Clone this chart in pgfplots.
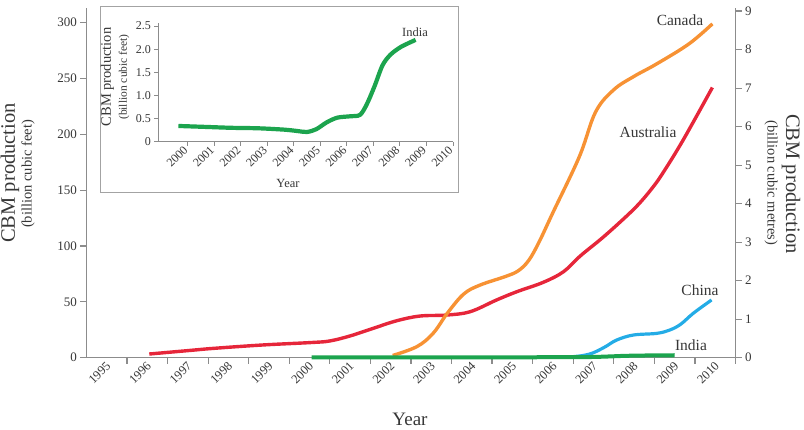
\documentclass[border=0pt]{standalone}
\usepackage{pgfplots}
\usepackage{pgfplotstable}
\pgfplotsset{compat=1.18}
\usepackage{fontspec}
\setmainfont{Liberation Serif}

\definecolor{cbmOrange}{RGB}{247,146,52}
\definecolor{cbmRed}{RGB}{230,38,58}
\definecolor{cbmBlue}{RGB}{36,172,230}
\definecolor{cbmGreen}{RGB}{28,164,78}
\definecolor{axisgray}{RGB}{140,140,140}
\definecolor{txt}{RGB}{55,55,55}

% India CBM production, billion cubic feet
\pgfplotstableread{
year bcf
2000.0 0.34
2001.0 0.32
2002.0 0.30
2003.0 0.29
2004.0 0.26
2004.5 0.23
2004.85 0.21
2005.2 0.27
2005.6 0.42
2006.0 0.52
2006.5 0.55
2006.85 0.58
2007.1 0.80
2007.4 1.20
2007.7 1.65
2008.0 1.88
2008.4 2.05
2008.95 2.20
}\indiatab

\pgfplotsset{
  cbm/.style={
    scale only axis, anchor=south west,
    axis line style={axisgray, line width=1.5pt},
    tick style={axisgray, line width=1.2pt},
    tick align=outside, major tick length=6pt, minor tick length=6pt,
    /pgf/number format/assume math mode=true,
    /pgf/number format/set thousands separator={},
    tick label style={text=txt},
    clip=false,
  },
}

\begin{document}
\begin{tikzpicture}
\useasboundingbox (0pt,0pt) rectangle (804pt,429pt);

% ---------------- main axis (billion cubic feet) ----------------
% year labels sit on the (invisible) major ticks, the tick marks are minor ticks
\begin{axis}[cbm,
  at={(86.4pt,71.3pt)}, width=649.1pt, height=349.7pt,
  xmin=1994.45, xmax=2010.45, ymin=0, ymax=313.2,
  axis x line*=bottom, axis y line*=left,
  xtick={1995,1996,1997,1998,1999,2000,2001,2002,2003,2004,2005,2006,2007,2008,2009,2010},
  major x tick style={draw=none},
  minor xtick={1995.45,1996.45,1997.45,1998.45,1999.45,2000.45,2001.45,2002.45,2003.45,2004.45,2005.45,2006.45,2007.45,2008.45,2009.45,2010.45},
  minor x tick style={axisgray, line width=1.2pt},
  xticklabel style={rotate=45, anchor=east, font=\fontsize{12.5}{12.5}\selectfont, xshift=3pt, yshift=0pt},
  ytick={0,50,100,150,200,250,300},
  yticklabel style={font=\fontsize{13}{13}\selectfont},
]
% Australia
\addplot[cbmRed, line width=3.4pt, smooth, tension=0.6] coordinates {
(1996.0,3.3) (1997.0,6.5) (1997.6,8.4) (1998.8,11.4) (2000.0,13.6) (2000.45,15)
(2000.95,19.5) (2001.52,26.3) (2002.1,33.1) (2002.67,37.3) (2003.33,38.2)
(2003.91,41.2) (2004.56,51.7) (2005.06,59.1) (2005.71,67.5) (2006.21,77)
(2006.62,91) (2007.19,108) (2007.77,127) (2008.1,139) (2008.42,153)
(2008.67,166) (2009.16,195) (2009.88,242)
};
% Canada
\addplot[cbmOrange, line width=3.4pt, smooth, tension=0.6] coordinates {
(2002.0,2) (2002.6,10) (2003.0,22) (2003.35,40) (2003.75,57) (2004.15,65)
(2004.8,73) (2005.1,78) (2005.35,87) (2005.6,103) (2005.95,130) (2006.6,180)
(2007.0,220) (2007.45,240) (2007.95,252) (2008.5,263) (2009.3,281) (2009.88,299)
};
% China
\addplot[cbmBlue, line width=3.2pt, smooth, tension=0.6] coordinates {
(2006.4,0.8) (2006.7,2) (2006.95,4.5) (2007.25,10) (2007.52,15.8)
(2007.93,20.3) (2008.51,21.8) (2008.83,24.8) (2009.1,30) (2009.41,39.8) (2009.86,51.7)
};
% India
\addplot[cbmGreen, line width=4pt] table[x=year, y=bcf] {\indiatab};
\end{axis}

% ---------------- right axis (billion cubic metres) ----------------
\begin{axis}[cbm,
  at={(86.4pt,71.3pt)}, width=649.1pt, height=349.7pt,
  xmin=1994.45, xmax=2010.45, ymin=0, ymax=9.08,
  axis y line*=right, axis x line=none,
  ytick={0,1,2,3,4,5,6,7,8,9},
  yticklabel style={font=\fontsize{13}{13}\selectfont},
]
\end{axis}

% axis titles
\node[rotate=90, text=txt, font=\fontsize{20.5}{21}\selectfont] at (10pt,256pt) {CBM production};
\node[rotate=90, text=txt, font=\fontsize{14.5}{15}\selectfont] at (28pt,255pt) {(billion cubic feet)};
\node[rotate=-90, text=txt, font=\fontsize{20.5}{21}\selectfont] at (791pt,245pt) {CBM production};
\node[rotate=-90, text=txt, font=\fontsize{14.5}{15}\selectfont] at (771pt,246pt) {(billion cubic metres)};
\node[text=txt, font=\fontsize{19}{19}\selectfont] at (410pt,10pt) {Year};

% series names
\node[text=txt, font=\fontsize{15.5}{16}\selectfont] at (680pt,409pt) {Canada};
\node[text=txt, font=\fontsize{15.5}{16}\selectfont] at (648pt,297pt) {Australia};
\node[text=txt, font=\fontsize{15.5}{16}\selectfont] at (700pt,139pt) {China};
\node[text=txt, font=\fontsize{15.5}{16}\selectfont] at (691pt,84pt) {India};

% ---------------- inset: India ----------------
\draw[draw=axisgray!80, line width=0.9pt, fill=white] (100pt,236.3pt) rectangle (458.3pt,422.3pt);
\begin{axis}[cbm,
  at={(158.3pt,287.3pt)}, width=294.7pt, height=118.7pt,
  axis line style={axisgray, line width=1.2pt},
  tick style={axisgray, line width=1pt}, major tick length=4pt,
  xmin=1999.24, xmax=2010.36, ymin=0, ymax=2.565,
  axis x line*=bottom, axis y line*=left,
  xtick={2000.36,2001.36,2002.36,2003.36,2004.36,2005.36,2006.36,2007.36,2008.36,2009.36,2010.36},
  xticklabels={2000,2001,2002,2003,2004,2005,2006,2007,2008,2009,2010},
  xticklabel style={rotate=45, anchor=east, font=\fontsize{12}{12}\selectfont},
  ytick={0,0.5,1,1.5,2,2.5},
  yticklabels={0,0.5,1.0,1.5,2.0,2.5},
  yticklabel style={font=\fontsize{12}{12}\selectfont},
]
\addplot[cbmGreen, line width=4.2pt, smooth, tension=0.5] table[x=year, y=bcf] {\indiatab};
\end{axis}
\node[rotate=90, text=txt, font=\fontsize{14.5}{15}\selectfont] at (107.5pt,352pt) {CBM production};
\node[rotate=90, text=txt, font=\fontsize{11.5}{12}\selectfont] at (124pt,352pt) {(billion cubic feet)};
\node[text=txt, font=\fontsize{12.5}{12.5}\selectfont] at (288pt,246pt) {Year};
\node[text=txt, font=\fontsize{12.5}{13}\selectfont] at (415pt,397pt) {India};
\end{tikzpicture}
\end{document}
